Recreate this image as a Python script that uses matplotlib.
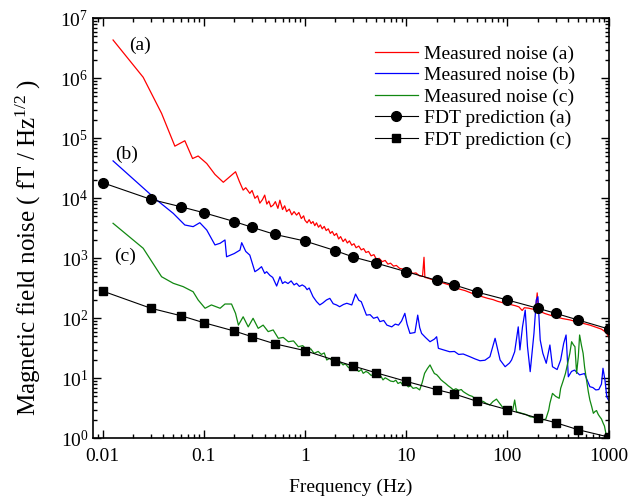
import math
import matplotlib
matplotlib.use("Agg")
import matplotlib.pyplot as plt
from matplotlib.ticker import LogLocator, FixedLocator, FuncFormatter, NullFormatter

plt.rcParams['font.family'] = ['Liberation Serif', 'DejaVu Serif']
plt.rcParams['mathtext.fontset'] = 'custom'
plt.rcParams['mathtext.rm'] = 'Liberation Serif'
plt.rcParams['mathtext.it'] = 'Liberation Serif:italic'

# ---------------- data ----------------
fdt_freq = [0.01, 0.03, 0.06, 0.1, 0.2, 0.3, 0.5, 1, 2, 3, 5, 10, 20, 30, 50, 100, 200, 300, 500, 1000]
fdt_a = [1.82e4, 9.6e3, 7.2e3, 5.75e3, 4.1e3, 3.29e3, 2.51e3, 1.94e3, 1.34e3, 1.05e3, 835, 598, 430, 359, 274,
         202, 147, 121, 93.7, 66.4]
fdt_c = [285, 147, 110, 84.5, 61.4, 49.3, 37.7, 28.9, 19.8, 16.0, 12.4, 8.9, 6.46, 5.47, 4.14,
         3.0, 2.18, 1.82, 1.39, 1.05]

red_freq = [0.0127, 0.0252, 0.0383, 0.0518, 0.065, 0.0775, 0.088, 0.107, 0.129, 0.156, 0.181, 0.206, 0.225, 0.245,
            0.26, 0.285, 0.30, 0.32, 0.34, 0.358, 0.38, 0.40, 0.42, 0.44, 0.46, 0.485, 0.51, 0.54, 0.565, 0.60,
            0.63, 0.658, 0.70, 0.74, 0.78, 0.826, 0.87, 0.92, 0.97,
            1.0, 1.05, 1.1, 1.15, 1.2, 1.25, 1.3, 1.36, 1.42, 1.48, 1.55, 1.62, 1.7, 1.78, 1.86, 1.95, 2.05, 2.15,
            2.25, 2.38, 2.5, 2.62, 2.75, 2.9, 3.05, 3.2, 3.4, 3.6, 3.8, 4.0, 4.25, 4.5, 4.8, 5.1, 5.4, 5.8, 6.2,
            6.6, 7.0, 7.5, 8.0, 8.6, 9.3, 10, 10.8, 11.6, 12.5, 13.5, 14.5, 15.0, 15.3, 16.2, 17.5, 19, 20.5, 22,
            24, 26, 28, 31, 34, 38, 43, 49, 56, 64, 72, 80, 90, 100, 110, 120, 130, 140, 147, 160, 175, 190, 197,
            203, 215, 235, 263, 300, 350, 414, 480, 560, 653, 750, 850, 920, 960, 1000]
red_val = [4.35e6, 1.04e6, 2.6e5, 7.4e4, 9.1e4, 4.6e4, 5.07e4, 3.8e4, 2.5e4, 1.85e4, 2.29e4, 2.77e4, 1.9e4, 1.37e4,
           1.5e4, 1.21e4, 1.35e4, 1.0e4, 1.1e4, 8.3e3, 9.5e3, 1.13e4, 8.0e3, 9.0e3, 7.2e3, 7.7e3, 8.8e3, 6.8e3,
           9.3e3, 6.5e3, 7.5e3, 6.0e3, 6.6e3, 5.3e3, 6.0e3, 5.25e3, 5.8e3, 4.6e3, 5.1e3,
           4.3e3, 3.9e3, 4.4e3, 3.8e3, 4.1e3, 3.5e3, 3.9e3, 3.3e3, 3.6e3, 3.1e3, 3.4e3, 2.9e3, 3.1e3, 2.6e3,
           2.8e3, 2.4e3, 2.6e3, 2.1e3, 2.3e3, 1.9e3, 2.1e3, 1.8e3, 1.95e3, 1.65e3, 1.75e3, 1.5e3, 1.6e3, 1.38e3,
           1.45e3, 1.25e3, 1.3e3, 1.1e3, 1.15e3, 950, 1.0e3, 880, 920, 800, 830, 740, 760, 680, 660, 610, 620,
           560, 570, 510, 500, 1040, 480, 470, 450, 430, 410, 400, 380, 365, 345, 320, 305, 290, 268, 246, 230,
           215, 205, 192, 182, 176, 168, 162, 155, 135, 150, 148, 143, 140, 265, 135, 128, 120, 113, 106, 99, 94,
           88, 82, 77, 71, 66, 60, 56, 49]

blue_freq = [0.0127, 0.0342, 0.050, 0.058, 0.065, 0.0785, 0.0914, 0.107, 0.129, 0.145, 0.162, 0.168, 0.20, 0.228,
             0.237, 0.26, 0.285, 0.32, 0.345, 0.372, 0.40, 0.418, 0.45, 0.48, 0.525, 0.566, 0.60, 0.634, 0.68,
             0.73, 0.78, 0.826, 0.88, 0.94, 1.0, 1.05, 1.1, 1.2, 1.3, 1.4, 1.5, 1.63, 1.76, 1.9, 2.05, 2.2, 2.4,
             2.59, 2.9, 3.16, 3.4, 3.6, 4.05, 4.4, 4.76, 5.2, 5.5, 6.0, 6.45, 7.2, 7.8, 8.4, 9.0, 9.7, 10.2, 10.9,
             12.2, 13.0, 13.6, 14.2, 15.5, 17.2, 19, 20, 20.8, 23, 26.9, 30, 33, 36.6, 42.6, 48, 53.6, 60, 67.2,
             75.6, 84.7, 95, 105, 110, 118, 128, 133, 141, 150, 158, 168, 183, 193, 200, 211, 224, 242, 263, 279,
             310, 336, 360, 380, 400, 430, 460, 517, 578, 653, 700, 748, 800, 850, 880, 920, 960, 1000]
blue_val = [4.2e4, 9.4e3, 5.6e3, 4.35e3, 3.59e3, 3.37e3, 3.92e3, 2.96e3, 1.67e3, 1.78e3, 2.02e3, 1.06e3, 1.2e3,
            1.37e3, 1.82e3, 1.3e3, 1.13e3, 598, 650, 725, 560, 598, 520, 480, 345, 493, 380, 407, 380, 420, 360,
            383, 340, 360, 337, 300, 320, 230, 190, 167, 180, 202, 215, 175, 167, 156, 170, 178, 167, 254, 200,
            189, 113, 115, 100, 105, 88, 92, 77, 72, 80, 77, 90, 121, 80, 56, 58, 113, 70, 56, 48, 40.7, 45,
            49.3, 31.6, 30, 27.7, 28, 25, 25.4, 22.9, 21, 19.6, 20, 22.9, 46.4, 20.2, 15.6, 18, 20.2, 27.7, 72,
            29.7, 72, 137, 33.6, 12.9, 56, 202, 229, 43.5, 26.1, 17.8, 35.9, 15.6, 14, 20.2, 38.3, 52.7, 10.6,
            13, 13.7, 11.4, 12, 7.25, 7.0, 6.4, 6.5, 8, 14.7, 9.4, 4.9, 4.3]

green_freq = [0.0127, 0.0252, 0.0383, 0.05, 0.0626, 0.0785, 0.088, 0.103, 0.119, 0.145, 0.162, 0.188, 0.206, 0.22,
              0.245, 0.275, 0.307, 0.345, 0.386, 0.433, 0.485, 0.545, 0.61, 0.685, 0.77, 0.86, 0.95, 1.05, 1.14,
              1.23, 1.35, 1.45, 1.55, 1.64, 1.76, 1.9, 2.02, 2.15, 2.25, 2.38, 2.5, 2.7, 2.85, 3.0, 3.2, 3.4,
              3.6, 3.76, 4.0, 4.2, 4.5, 4.76, 5.0, 5.3, 5.6, 5.9, 6.2, 6.6, 7.0, 7.5, 7.9, 8.3, 8.8, 9.3, 9.9,
              10.5, 11.1, 11.7, 12.6, 13.6, 14.4, 15.2, 16.2, 17.2, 18.1, 19, 20, 21, 22, 23.2, 24.5, 26, 27.5,
              29.3, 31, 33, 35, 36.6, 39, 42, 45, 49.6, 52, 55, 58, 62, 67, 72, 78, 84, 91, 100, 108, 113, 118,
              123, 130, 140, 152, 168, 180, 195, 210, 224, 240, 256, 263, 279, 300, 325, 336, 355, 375, 395, 414,
              431, 450, 465, 483, 502, 517, 540, 560, 580, 605, 630, 653, 680, 707, 735, 760, 790, 818, 850, 884,
              910, 940, 970, 1000]
green_val = [3.83e3, 1.47e3, 493, 383, 337, 277, 202, 147, 167, 147, 173, 173, 121, 77, 106, 72, 100, 68, 77, 60,
             64, 46.4, 48, 40.7, 42, 33.6, 35, 29.7, 31, 26.1, 28, 25, 26.5, 20.2, 21.5, 19, 20.5, 16.7, 18.5,
             16.7, 17.5, 15, 16, 15.5, 14.2, 13, 14, 12.1, 13, 12.5, 11.2, 11.4, 12, 10.5, 11, 9.4, 10.2, 9.6, 9.0,
             8.8, 9.3, 8.2, 8.6, 7.7, 8.0, 7.2, 7.5, 6.8, 7.0, 6.4, 8.5, 12.1, 14.5, 16.7, 14, 12, 11.5, 10.5, 9.5,
             8.8, 8.2, 7.5, 7.0, 6.4, 6.7, 6.3, 6.5, 6.0, 5.6, 5.2, 5.0, 4.35, 4.6, 4.2, 4.1, 3.8, 3.59, 4.1,
             4.5, 3.8, 3.2, 3.0, 3.1, 2.96, 4.35, 2.77, 2.7, 2.6, 2.5, 2.29, 2.25, 2.15, 2.1, 2.02, 2.1, 2.96,
             3.83, 5.6, 5.0, 4.64, 6.8, 9.0, 12.1, 18, 26.1, 40.7, 36, 33.6, 12.1, 22.9, 52.7, 35, 26.1, 15, 9.4,
             6.0, 4.35, 3.4, 2.61, 2.8, 2.9, 2.5, 2.29, 2.1, 1.78, 1.6, 1.21, 1.05, 0.9]

x_ticks = [0.01, 0.1, 1, 10, 100, 1000]
x_ticklabels = ['0.01', '0.1', '1', '10', '100', '1000']
y_ticks = [1, 10, 100, 1e3, 1e4, 1e5, 1e6, 1e7]
legend_labels = ['Measured noise (a)', 'Measured noise (b)', 'Measured noise (c)',
                 'FDT prediction (a)', 'FDT prediction (c)']
curve_labels = ['(a)', '(b)', '(c)']
curve_label_pos = [(0.0234, 3.6e6), (0.0173, 5.3e4), (0.0166, 1.06e3)]

# ---------------- figure ----------------
fig = plt.figure(figsize=(6.28, 5.01), dpi=100)
ax = fig.add_axes([93.3 / 628, 1 - 438.3 / 501, (608.6 - 93.3) / 628, (438.3 - 18.3) / 501])

lw = 0.9
l1, = ax.plot(red_freq, red_val, color='#ff0000', lw=lw)
l2, = ax.plot(blue_freq, blue_val, color='#0000ff', lw=lw)
l3, = ax.plot(green_freq, green_val, color='#118811', lw=lw)
l4, = ax.plot(fdt_freq, fdt_a, color='black', lw=0.8, marker='o', markersize=7)
l5, = ax.plot(fdt_freq, fdt_c, color='black', lw=0.8, marker='s', markersize=6)

ax.set_xscale('log')
ax.set_yscale('log')
ax.set_xlim(0.0081, 1000)
ax.set_ylim(1, 1e7)

ax.xaxis.set_major_locator(FixedLocator(x_ticks))
ax.set_xticklabels(x_ticklabels)
ax.xaxis.set_minor_locator(LogLocator(base=10, subs=range(2, 10), numticks=20))
ax.xaxis.set_minor_formatter(NullFormatter())
ax.yaxis.set_major_locator(FixedLocator(y_ticks))
ax.yaxis.set_major_formatter(FuncFormatter(lambda v, p: r'$\mathregular{10^{%d}}$' % round(math.log10(v))))
ax.yaxis.set_minor_locator(LogLocator(base=10, subs=range(2, 10), numticks=20))
ax.yaxis.set_minor_formatter(NullFormatter())

ax.tick_params(which='both', direction='in', top=True, right=True, labelsize=14, width=1.0)
ax.tick_params(which='major', length=6)
ax.tick_params(which='minor', length=3)
ax.tick_params(axis='x', pad=7)
for s in ax.spines.values():
    s.set_linewidth(1.2)

ax.set_xlabel('Frequency (Hz)', fontsize=14)
ax.xaxis.set_label_coords(0.5, -0.097)
ax.set_ylabel(r'Magnetic field noise ( fT / Hz$^{\mathregular{1/2}}$ )', fontsize=18)
ax.yaxis.set_label_coords(-0.097, 0.455)

for t, (x, y) in zip(curve_labels, curve_label_pos):
    ax.text(x, y, t, fontsize=14, ha='center', va='center')

leg = fig.legend([l1, l2, l3, l4, l5], legend_labels, loc='upper left',
                 bbox_to_anchor=(375 / 628, 1 - 45 / 501), frameon=False, fontsize=14,
                 handlelength=2.2, handletextpad=0.3, labelspacing=0.2, borderpad=0, borderaxespad=0)

fig.savefig('out.png', dpi=100)
